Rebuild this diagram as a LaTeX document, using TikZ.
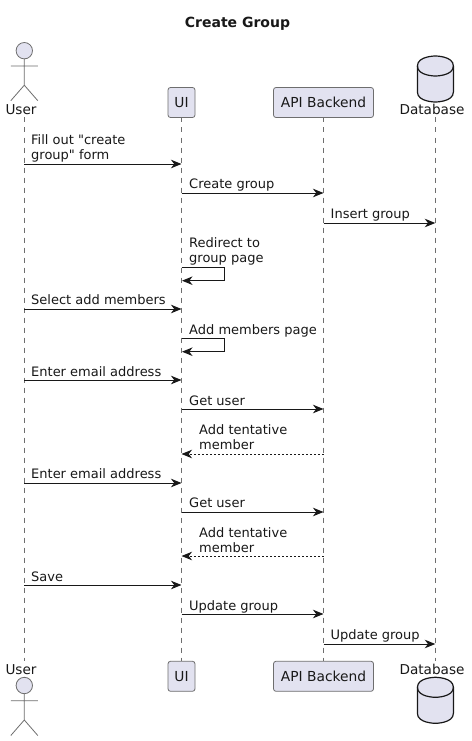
\documentclass[tikz,border=0pt]{standalone}
\usepackage{fontspec}
\newfontfamily\diagramfont{DejaVu Sans}
\usetikzlibrary{arrows.meta}
\definecolor{ink}{HTML}{181818}
\definecolor{soft}{HTML}{6E6E6E}
\definecolor{partfill}{HTML}{E2E2F0}
\tikzset{
  lifeline/.style={draw=soft,line width=0.8pt,dash pattern=on 5pt off 5pt},
  part/.style={draw=soft,line width=0.8pt,fill=partfill,rounded corners=2.5pt,minimum height=30pt,inner sep=0pt,font=\diagramfont\fontsize{13.8}{16}\selectfont,text=ink},
  partname/.style={anchor=base,inner sep=0pt,font=\diagramfont\fontsize{13.6}{16}\selectfont,text=ink},
  msg/.style={draw=ink,line width=1pt,-{Stealth[length=10.5pt,width=8.5pt,inset=3.2pt]}},
  reply/.style={msg,dash pattern=on 2pt off 2pt},
  mlabel/.style={anchor=south west,align=left,inner sep=0pt,text depth=0pt,font=\diagramfont\fontsize{13}{15}\selectfont,text=ink},
  actorline/.style={draw=soft,line width=0.8pt},
  actorhead/.style={draw=soft,line width=0.8pt,fill=partfill},
  dbbody/.style={draw=ink,line width=1.2pt,fill=partfill},
}
\newcommand{\stickman}[2]{%
  \draw[actorhead] (#1,#2) circle (8.2);
  \draw[actorline] (#1,#2+8.2) -- (#1,#2+34.5)
    (#1-13.5,#2+15.3) -- (#1+13.5,#2+15.3)
    (#1-13.5,#2+50) -- (#1,#2+34.5) -- (#1+13.5,#2+50);
}
\newcommand{\drum}[2]{%
  \draw[dbbody] (#1-18,#2+10) .. controls (#1-18,#2) and (#1,#2) .. (#1,#2)
    .. controls (#1,#2) and (#1+18,#2) .. (#1+18,#2+10)
    -- (#1+18,#2+36) .. controls (#1+18,#2+46) and (#1,#2+46) .. (#1,#2+46)
    .. controls (#1,#2+46) and (#1-18,#2+46) .. (#1-18,#2+36) -- cycle;
  \draw[dbbody,fill=none] (#1-18,#2+10) .. controls (#1-18,#2+20) and (#1,#2+20) .. (#1,#2+20)
    .. controls (#1,#2+20) and (#1+18,#2+20) .. (#1+18,#2+10);
}
\begin{document}
\begin{tikzpicture}[x=1pt,y=-1pt]
\useasboundingbox (0,0) rectangle (471,741);
\fill[white] (0,0) rectangle (471,741);
\node[anchor=base,inner sep=0pt,font=\diagramfont\fontsize{14}{16}\selectfont\bfseries,text=ink] (title) at (237.5,28) {Create Group};

% lifeline ends
\coordinate (uA) at (24.3,117.5);  \coordinate (uZ) at (24.3,661);
\coordinate (dA) at (435.3,117.5); \coordinate (dZ) at (435.3,661);

% lifelines
\coordinate (uiA) at (181.5,117.5); \coordinate (uiZ) at (181.5,661);
\coordinate (apiA) at (323.5,117.5); \coordinate (apiZ) at (323.5,661);
\draw[lifeline] (uA) -- (uZ);
\draw[lifeline] (uiA) -- (uiZ);
\draw[lifeline] (apiA) -- (apiZ);
\draw[lifeline] (dA) -- (dZ);

% participants, top
\node[part,minimum width=27pt] (uiT) at (181.5,102.5) {UI};
\node[part,minimum width=100pt] (apiT) at (323.5,102.5) {API Backend};
\node[partname] (userT) at (21,115) {User};
\node[partname] (dbT) at (432,115) {Database};
% participants, bottom
\node[part,minimum width=27pt] (uiB) at (181.5,676.3) {UI};
\node[part,minimum width=100pt] (apiB) at (323.5,676.3) {API Backend};
\node[partname] (userB) at (21,674.5) {User};
\node[partname] (dbB) at (432,674.5) {Database};

% actors and databases
\stickman{24.3}{50.7}
\stickman{24.3}{685.5}
\drum{435.4}{56}
\drum{435.4}{677.3}

% message end points
\foreach \n/\xa/\xb/\y in {
  m1/24.3/181.5/164, m2/181.5/323.5/193, m3/323.5/435.3/223,
  m5/24.3/181.5/309, m7/24.3/181.5/380, m8/181.5/323.5/409,
  m9/323.5/181.5/454, m10/24.3/181.5/483, m11/181.5/323.5/512,
  m12/323.5/181.5/556, m13/24.3/181.5/585, m14/181.5/323.5/614,
  m15/323.5/435.3/644}{
  \coordinate (\n a) at (\xa,\y);
  \coordinate (\n b) at (\xb,\y);
}
\coordinate (s1a) at (181.5,267.3); \coordinate (s1c) at (224.5,280.7); \coordinate (s1b) at (182,280.7);
\coordinate (s2a) at (181.5,338.3); \coordinate (s2c) at (224.5,351.7); \coordinate (s2b) at (182,351.7);

% messages
\draw[msg] (m1a) -- (m1b);
\draw[msg] (m2a) -- (m2b);
\draw[msg] (m3a) -- (m3b);
\draw[msg] (s1a) -| (s1c) -- (s1b);
\draw[msg] (m5a) -- (m5b);
\draw[msg] (s2a) -| (s2c) -- (s2b);
\draw[msg] (m7a) -- (m7b);
\draw[msg] (m8a) -- (m8b);
\draw[reply] (m9a) -- (m9b);
\draw[msg] (m10a) -- (m10b);
\draw[msg] (m11a) -- (m11b);
\draw[reply] (m12a) -- (m12b);
\draw[msg] (m13a) -- (m13b);
\draw[msg] (m14a) -- (m14b);
\draw[msg] (m15a) -- (m15b);

% labels: south west corner is the last baseline
\node[mlabel] (l1) at (31,160) {Fill out "create\\group" form};
\node[mlabel] (l2) at (189,189) {Create group};
\node[mlabel] (l3) at (330.5,219) {Insert group};
\node[mlabel] (l4) at (189,262.5) {Redirect to\\group page};
\node[mlabel] (l5) at (31,305) {Select add members};
\node[mlabel] (l6) at (189,335) {Add members page};
\node[mlabel] (l7) at (31,377) {Enter email address};
\node[mlabel] (l8) at (189,406) {Get user};
\node[mlabel] (l9) at (199,450) {Add tentative\\member};
\node[mlabel] (l10) at (31,479) {Enter email address};
\node[mlabel] (l11) at (189,508) {Get user};
\node[mlabel] (l12) at (199,553) {Add tentative\\member};
\node[mlabel] (l13) at (31,582) {Save};
\node[mlabel] (l14) at (189,611) {Update group};
\node[mlabel] (l15) at (330.5,640) {Update group};
\end{tikzpicture}
\end{document}
